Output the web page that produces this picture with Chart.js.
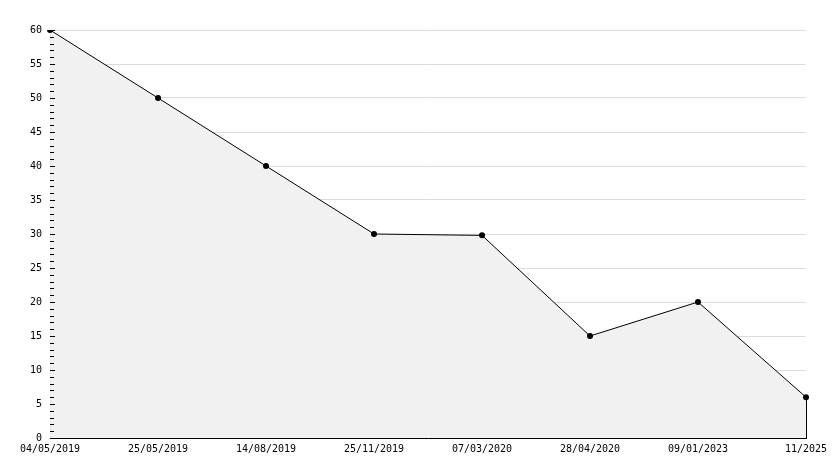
<!DOCTYPE html>
<html>
<head>
<meta charset="utf-8">
<script src="https://cdn.jsdelivr.net/npm/chart.js@4/dist/chart.umd.min.js"></script>
<style>
  html, body { margin: 0; padding: 0; background: #fff; }
  #wrap { width: 834px; height: 468px; }
</style>
</head>
<body>
<div id="wrap"><canvas id="myChart"></canvas></div>
<script>
var dates = ["04/05/2019", "25/05/2019", "14/08/2019", "25/11/2019", "07/03/2020", "28/04/2020", "09/01/2023", "11/2025"];
var values = [60, 50, 40, 30, 29.8, 15, 20, 6];
var yMin = 0, yMax = 60, yStep = 5;

// little inside ticks on the y axis plus the closing edge of the area
var axisMarks = {
    id: "axisMarks",
    afterDatasetsDraw: function (chart) {
        var ctx = chart.ctx;
        var y = chart.scales.y;
        var area = chart.chartArea;
        ctx.save();
        ctx.strokeStyle = "#000";
        ctx.lineWidth = 1;
        ctx.beginPath();
        for (var v = yMin; v <= yMax; v++) {
            var py = Math.round(y.getPixelForValue(v)) + 0.5;
            var len = (v % yStep === 0) ? 5 : 4;
            ctx.moveTo(area.left, py);
            ctx.lineTo(area.left + len, py);
        }
        var pts = chart.getDatasetMeta(0).data;
        var last = pts[pts.length - 1];
        ctx.moveTo(Math.round(last.x) + 0.5, last.y);
        ctx.lineTo(Math.round(last.x) + 0.5, area.bottom);
        ctx.stroke();
        ctx.restore();
    }
};

var ctx = document.getElementById("myChart").getContext("2d");
var myChart = new Chart(ctx, {
    type: "line",
    data: {
        labels: dates,
        datasets: [{
            data: values,
            fill: "origin",
            backgroundColor: "#f1f1f1",
            borderColor: "#000",
            borderWidth: 1,
            tension: 0,
            pointStyle: "circle",
            pointRadius: 3,
            pointBackgroundColor: "#000",
            pointBorderColor: "#000",
            pointBorderWidth: 0
        }]
    },
    options: {
        responsive: true,
        maintainAspectRatio: false,
        animation: false,
        layout: { padding: { top: 30, right: 28, bottom: 8, left: 22 } },
        plugins: { legend: { display: false }, tooltip: { enabled: false } },
        scales: {
            x: {
                offset: false,
                grid: { display: false, drawTicks: false },
                border: { display: true, color: "#000", width: 1 },
                ticks: {
                    autoSkip: false, maxRotation: 0, padding: 5,
                    color: "#000", font: { family: "DejaVu Sans Mono", size: 10 }
                }
            },
            y: {
                min: yMin, max: yMax,
                grid: { color: "#dcdcdc", drawTicks: false },
                border: { display: true, color: "#000", width: 1 },
                ticks: {
                    stepSize: yStep, padding: 8,
                    color: "#000", font: { family: "DejaVu Sans Mono", size: 10 }
                }
            }
        }
    },
    plugins: [axisMarks]
});
</script>
</body>
</html>
